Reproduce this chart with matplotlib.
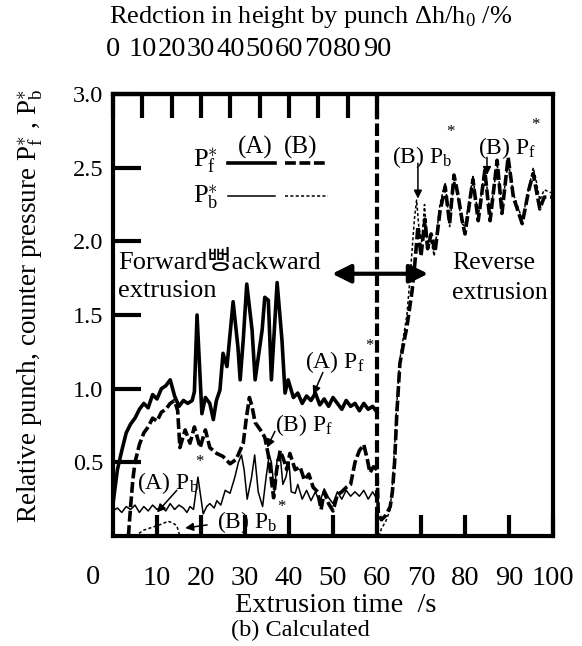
import numpy as np
import matplotlib
matplotlib.use("Agg")
import matplotlib.pyplot as plt

plt.rcParams["font.family"] = ["Liberation Serif", "Noto Sans CJK KR"]
plt.rcParams["mathtext.fontset"] = "custom"
plt.rcParams["mathtext.rm"] = "Liberation Serif"
plt.rcParams["mathtext.it"] = "Liberation Serif:italic"

# ---- data (time /s, relative pressure) ----
pf_a_t = [0, 1, 2, 3, 4, 5, 6, 7, 8, 9, 10, 11, 12, 13, 14, 15, 16, 17, 18, 18.5,
          19.1, 20.2, 21, 22, 22.8, 23.5, 24.3, 25, 25.9, 27.3, 28.4, 28.9, 29.6,
          30.4, 31.6, 32.3, 33.9, 34.5, 35.3, 36, 37.3, 38.4, 39.1, 39.8, 41, 42,
          43, 44, 45, 46, 47, 48, 49, 50, 51, 52, 53, 54, 55, 56, 57, 58, 59, 60]
pf_a_v = [0.22, 0.45, 0.58, 0.7, 0.76, 0.8, 0.86, 0.9, 0.87, 0.96, 0.93, 1.0, 1.02,
          1.06, 0.95, 0.88, 0.92, 0.9, 0.92, 0.98, 1.5, 0.83, 0.94, 0.9, 0.79, 0.92,
          0.99, 1.24, 1.15, 1.59, 1.28, 1.06, 1.33, 1.71, 1.4, 1.06, 1.4, 1.62, 1.6,
          1.06, 1.72, 1.33, 0.97, 1.06, 0.94, 0.97, 0.9, 0.95, 0.92, 0.97, 0.89,
          0.93, 0.88, 0.94, 0.9, 0.86, 0.92, 0.88, 0.9, 0.85, 0.9, 0.86, 0.88, 0.84]

pf_b_t = [3.5, 4, 4.5, 5, 6, 7, 8, 9, 10, 11, 12, 13, 14, 14.7, 15.2, 16.4, 17.5,
          18.5, 19.8, 21, 22, 23.6, 25, 26.6, 28, 29.6, 30.3, 31, 31.6, 32.3, 33.5,
          34.5, 35.3, 36, 36.5, 37.2, 38, 39, 39.5, 40.2, 41.4, 42.5, 43.5, 44.5,
          45.5, 46.5, 47.3, 48, 49, 50, 51, 52, 53, 54, 55, 56, 57, 57.8, 58.4,
          59.2, 60, 60.3, 61, 62, 63, 63.5, 64, 64.5, 65.2, 66, 66.8, 68, 68.6,
          69.3, 70, 70.9, 71.5, 72.3, 73.2, 74.3, 75.5, 76.5, 77.5, 78.5, 79.3, 80,
          81.8, 83, 84.5, 85.7, 87.3, 88.4, 89.8, 91, 93, 94.5, 95.5, 97, 98, 99.5]
pf_b_v = [0.0, 0.2, 0.38, 0.5, 0.62, 0.7, 0.74, 0.8, 0.78, 0.84, 0.86, 0.9, 0.92,
          0.85, 0.6, 0.72, 0.63, 0.74, 0.6, 0.72, 0.6, 0.56, 0.54, 0.49, 0.52, 0.63,
          0.8, 0.94, 0.88, 0.77, 0.72, 0.67, 0.55, 0.38, 0.26, 0.45, 0.58, 0.5, 0.45,
          0.56, 0.45, 0.47, 0.38, 0.42, 0.33, 0.3, 0.18, 0.3, 0.22, 0.17, 0.28, 0.3,
          0.33, 0.35, 0.5, 0.58, 0.62, 0.52, 0.43, 0.47, 0.45, 0.15, 0.11, 0.14, 0.2,
          0.3, 0.5, 0.83, 1.17, 1.3, 1.42, 1.67, 1.85, 2.1, 1.9, 2.15, 1.95, 2.05,
          1.93, 2.2, 2.37, 2.12, 2.45, 2.3, 2.15, 2.05, 2.42, 2.14, 2.48, 2.14, 2.55,
          2.19, 2.57, 2.3, 2.12, 2.35, 2.46, 2.22, 2.3, 2.3]

pb_a_t = [0, 1, 2, 3, 4, 5, 6, 7, 8, 9, 10, 11, 12, 13, 14, 15, 16, 16.8, 17.5, 18.3,
          19.3, 20.5, 21.3, 22, 23, 23.6, 24.5, 25.5, 26.6, 27.7, 28.5, 29.2, 29.8,
          30.5, 31.5, 32.2, 33, 34, 34.8, 35.5, 36, 36.7, 37.3, 38, 38.6, 39.3, 40,
          40.5, 41.4, 42, 43, 44, 45, 46, 47, 48, 49, 50, 51, 52, 53, 54, 55, 56,
          57, 58, 59, 60]
pb_a_v = [0.17, 0.19, 0.16, 0.2, 0.18, 0.21, 0.16, 0.2, 0.17, 0.21, 0.18, 0.2, 0.17,
          0.22, 0.18, 0.21, 0.19, 0.16, 0.2, 0.18, 0.4, 0.15, 0.2, 0.22, 0.19, 0.24,
          0.21, 0.31, 0.29, 0.4, 0.5, 0.55, 0.45, 0.25, 0.4, 0.55, 0.3, 0.2, 0.4,
          0.55, 0.5, 0.3, 0.52, 0.55, 0.35, 0.4, 0.5, 0.3, 0.29, 0.35, 0.25, 0.31,
          0.24, 0.3, 0.23, 0.32, 0.26, 0.22, 0.3, 0.25, 0.31, 0.27, 0.3, 0.27, 0.31,
          0.25, 0.3, 0.25]

pb_b_t = [0, 5, 7, 9, 11, 12.5, 13.5, 14.5, 15.2, 60.5, 61, 62, 63, 63.5, 64, 64.5,
          65.2, 66, 66.8, 67.5, 68, 68.5, 69, 69.5, 70.2, 70.8, 71.5, 72.3, 73,
          74.3, 75.5, 76.5, 77.5, 78.5, 79.3, 80, 81.8, 83, 84.5, 85.7, 87.3, 88.4,
          89.8, 91, 93, 95.5, 96, 97, 98, 99.5]
pb_b_v = [0, 0, 0.04, 0.06, 0.08, 0.1, 0.09, 0.07, 0.0, 0.0, 0.05, 0.1, 0.18, 0.35,
          0.6, 0.9, 1.2, 1.35, 1.5, 1.75, 1.95, 2.15, 2.28, 2.1, 2.0, 2.25, 1.95,
          2.0, 1.9, 2.25, 2.4, 2.1, 2.43, 2.28, 2.12, 2.1, 2.44, 2.16, 2.5, 2.17,
          2.53, 2.22, 2.55, 2.32, 2.15, 2.5, 2.44, 2.28, 2.35, 2.33]

bottom_ticks = [10, 20, 30, 40, 50, 60, 70, 80, 90, 100]
left_ticks = [0.5, 1.0, 1.5, 2.0, 2.5, 3.0]
top_ticks = [0, 10, 20, 30, 40, 50, 60, 70, 80, 90]   # reduction in height, %
switch_time = 60   # 90 % reduction reached


def fx(px):
    return px / 582


def fy(py):
    return 1 - py / 646


fig = plt.figure(figsize=(5.82, 6.46), dpi=100)
ax = fig.add_axes([fx(113), fy(536), fx(553) - fx(113), fy(94) - fy(536)])

thick, thin = 2.6, 1.1
ax.plot(pf_a_t, pf_a_v, color="black", lw=thick)
ax.plot(pf_b_t, pf_b_v, color="black", lw=thick, ls=(0, (3, 1)))
ax.plot(pb_a_t, pb_a_v, color="black", lw=thin)
ax.plot(pb_b_t, pb_b_v, color="black", lw=thin, ls=(0, (2, 1.5)))
ax.axvline(switch_time, color="black", lw=3, ls=(0, (3, 1)))

ax.set_xlim(0, 100)
ax.set_ylim(0, 3.0)
for s in ax.spines.values():
    s.set_linewidth(3)

ax.set_xticks(bottom_ticks)
ax.set_xticklabels([str(t) for t in bottom_ticks])
ax.set_yticks(left_ticks)
ax.set_yticklabels([f"{t:.1f}" for t in left_ticks])
ax.tick_params(axis="x", direction="in", length=15, width=3, labelsize=20.5, pad=21.5)
ax.tick_params(axis="y", direction="in", length=20, width=3, labelsize=17.5, pad=7)

top = ax.secondary_xaxis("top", functions=(lambda t: t * 1.5, lambda r: r / 1.5))
top.set_xticks(top_ticks)
top.set_xticklabels([str(t) for t in top_ticks])
top.tick_params(direction="in", length=17, width=3, labelsize=20.5, pad=23)
top.spines["top"].set_linewidth(3)

# legend drawn by hand like the original
ax.plot([26.1, 36.8], [2.53, 2.53], color="black", lw=thick)
ax.plot([39.1, 48.9], [2.53, 2.53], color="black", lw=thick, ls=(0, (3, 1)))
ax.plot([26.1, 36.8], [2.31, 2.31], color="black", lw=thin)
ax.plot([39.1, 48.9], [2.31, 2.31], color="black", lw=thin, ls=(0, (2, 1.5)))
ax.text(32.3, 2.64, "(A)", ha="center", va="center", fontsize=18)
ax.text(42.7, 2.64, "(B)", ha="center", va="center", fontsize=18)
ax.text(18.2, 2.55, r"P$_\mathrm{f}^{\ast}$", ha="left", va="center", fontsize=19)
ax.text(18.2, 2.30, r"P$_\mathrm{b}^{\ast}$", ha="left", va="center", fontsize=19)

# region labels
ax.text(1.1, 1.86, "Forward뻥ackward", ha="left", va="center", fontsize=19)
ax.text(1.1, 1.66, "extrusion", ha="left", va="center", fontsize=19)
ax.text(77, 1.85, "Reverse", ha="left", va="center", fontsize=18.5)
ax.text(77, 1.65, "extrusion", ha="left", va="center", fontsize=18.5)
ax.annotate("", xy=(49.8, 1.78), xytext=(71.6, 1.78),
            arrowprops=dict(arrowstyle="<|-|>", lw=3, color="black",
                            mutation_scale=28, shrinkA=0, shrinkB=0))

# curve labels
arrow = dict(arrowstyle="-|>", lw=1.1, color="black", mutation_scale=12,
             shrinkA=0, shrinkB=0)
labels = [
    (r"(A) P$_\mathrm{f}$", (43.6, 1.18), (47.7, 1.11), (45.5, 0.96)),
    (r"(B) P$_\mathrm{f}$", (36.8, 0.75), (36.8, 0.71), (35.0, 0.60)),
    (r"(A) P$_\mathrm{b}$", (5.5, 0.36), (14.5, 0.31), (10.0, 0.16)),
    (r"(B) P$_\mathrm{b}$", (23.6, 0.095), (21.4, 0.075), (16.4, 0.054)),
    (r"(B) P$_\mathrm{b}$", (63.4, 2.57), (69.3, 2.53), (69.3, 2.29)),
    (r"(B) P$_\mathrm{f}$", (83.0, 2.63), (85.0, 2.57), (85.0, 2.45)),
]
for txt, pos, start, tip in labels:
    ax.text(pos[0], pos[1], txt, ha="left", va="center", fontsize=17)
    ax.annotate("", xy=tip, xytext=start, arrowprops=arrow)

stars = [(58.3, 1.29), (19.6, 0.50), (38.2, 0.20), (76.6, 2.74), (96.0, 2.79)]
for sx, sy in stars:
    ax.text(sx, sy, "*", ha="center", va="center", fontsize=12)

fig.text(fx(93), fy(578), "0", ha="center", va="center", fontsize=20.5)
fig.text(fx(311), fy(17), r"Redction in height by punch $\Delta$h/h$_0$ /%",
         ha="center", va="center", fontsize=19)
fig.text(fx(30), fy(306), r"Relative punch, counter pressure P$_\mathrm{f}^{\ast}$ , "
         r"P$_\mathrm{b}^{\ast}$", rotation=90, ha="center", va="center", fontsize=19.5)
fig.text(fx(336), fy(605), "Extrusion time  /s", ha="center", va="center", fontsize=20.5)
fig.text(fx(300), fy(630), "(b) Calculated", ha="center", va="center", fontsize=17.5)

fig.savefig("out.png", dpi=100)
